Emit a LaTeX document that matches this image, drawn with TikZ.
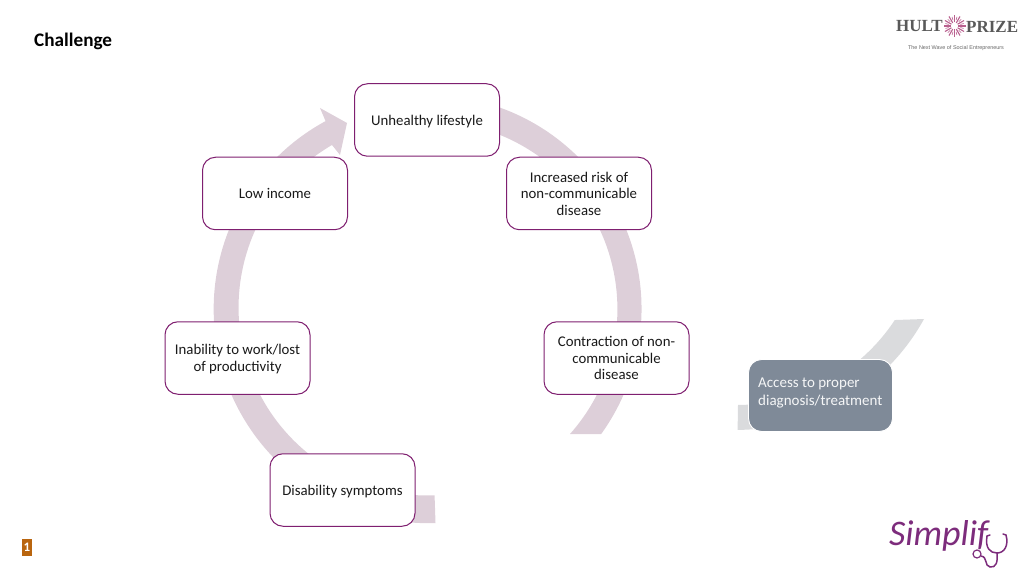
\documentclass[tikz,border=0pt]{standalone}
\usepackage{fontspec}
\setmainfont{Carlito}
\newfontfamily\logoserif{Liberation Serif}
\newfontfamily\logosans{Liberation Sans}
\newcommand{\lowertext}[2]{\raisebox{-#1}[\height][\depth]{#2}}
\definecolor{ringc}{HTML}{DDCFD9}
\definecolor{greyring}{HTML}{DADBDD}
\definecolor{edgec}{HTML}{7F1F70}
\definecolor{accessc}{HTML}{7F8A98}
\definecolor{burst}{HTML}{B9618F}
\definecolor{brand}{HTML}{7D2C7C}
\definecolor{numc}{HTML}{B9650F}
\tikzset{
  stage/.style={draw=edgec,line width=1pt,fill=white,rounded corners=13pt,minimum width=145pt,minimum height=72.5pt,align=center,font=\fontsize{14.8}{16.5}\selectfont,text=black!90,inner sep=0pt},
  accessbox/.style={draw=white,line width=0.9pt,fill=accessc,rounded corners=13pt,minimum width=144pt,minimum height=72pt,inner sep=0pt},
  petal/.style={burst,line width=1.1pt}
}
\begin{document}
\begin{tikzpicture}[x=1pt,y=1pt]
\useasboundingbox (0,0) rectangle (1024,576);
% main ring, centre (427.5,267)
\fill[ringc] (427.5,267)++(80:214) arc (80:-35.8:214) -- (570,142) arc (-41.6:80:188) -- cycle;
\fill[ringc] (435.5,53) arc (272.1:118.5:214) -- (320,468) -- (347,453) -- (340,421) -- (332,431) arc (120.2:272.44:188) -- cycle;
% grey ring, centre (737,360)
\fill[greyring] (924,257) arc (-28.8:-89.7:214) -- (738,171) arc (-89.7:-33.4:189) -- cycle;
\node[stage] (unhealthy) at (427,456) {\lowertext{2pt}{Unhealthy lifestyle}};
\node[stage] (risk) at (579,382.5) {Increased risk of\\non-communicable\\disease};
\node[stage] (contract) at (616.5,218) {Contraction of non-\\communicable\\disease};
\node[stage] (disability) at (342.5,86) {\lowertext{2pt}{Disability symptoms}};
\node[stage] (inability) at (237.5,218) {\lowertext{1pt}{Inability to work/lost}\\\lowertext{1pt}{of productivity}};
\node[stage] (lowincome) at (275,382.5) {Low income};
\node[accessbox] (access) at (820.5,180.5) {};
\node[anchor=west,align=left,text=white!92!accessc,font=\fontsize{15}{18}\selectfont,inner sep=0pt] (accesstext) at (758,183) {Access to proper\\diagnosis/treatment};
\node[anchor=west,inner sep=0pt,font=\fontsize{19.2}{22}\selectfont\bfseries] (title) at (34,535) {Challenge};
\node[fill=numc,text=white,minimum width=10pt,minimum height=17pt,inner sep=0pt,font=\fontsize{13}{14}\selectfont\bfseries] (pageno) at (27,28.5) {1};
% Hult Prize logo
\node[anchor=east,inner sep=0pt,text=black!65,font=\logoserif\fontsize{17}{20}\selectfont\bfseries] (hult) at (943,549.5) {HULT};
\node[anchor=west,inner sep=0pt,text=black!65,font=\logoserif\fontsize{17}{20}\selectfont\bfseries] (prize) at (966,549.5) {PRIZE};
\foreach \a in {0,30,...,330}{\draw[petal] (954.5,550)++(\a:3.5) -- ++(\a:7.5);}
\foreach \a in {15,45,...,345}{\draw[petal,line width=0.6pt] (954.5,550)++(\a:6) -- ++(\a:3.5);}
\node[inner sep=0pt,text=black!60,font=\logosans\fontsize{5.45}{6}\selectfont] (tagline) at (956,528) {The Next Wave of Social Entrepreneurs};
% Simplif logo
\node[anchor=west,inner sep=0pt,text=brand,font=\fontsize{36}{40}\selectfont\itshape] (simplif) at (889,40) {Simplif};
\draw[brand,line width=1.5pt,line cap=round] (987,40) .. controls (985,28) and (990,23) .. (997,23) .. controls (1004,23) and (1009,30) .. (1006,41);
\draw[brand,line width=1.5pt,line cap=round] (987,40) -- (990,41) (1006,41) -- (1003,42);
\draw[brand,line width=1.5pt] (997,23) .. controls (998,14) and (996,8) .. (990,9) .. controls (984,10) and (988,19) .. (981,20);
\draw[brand,line width=1.2pt] (977,22) circle (4);
\end{tikzpicture}
\end{document}
